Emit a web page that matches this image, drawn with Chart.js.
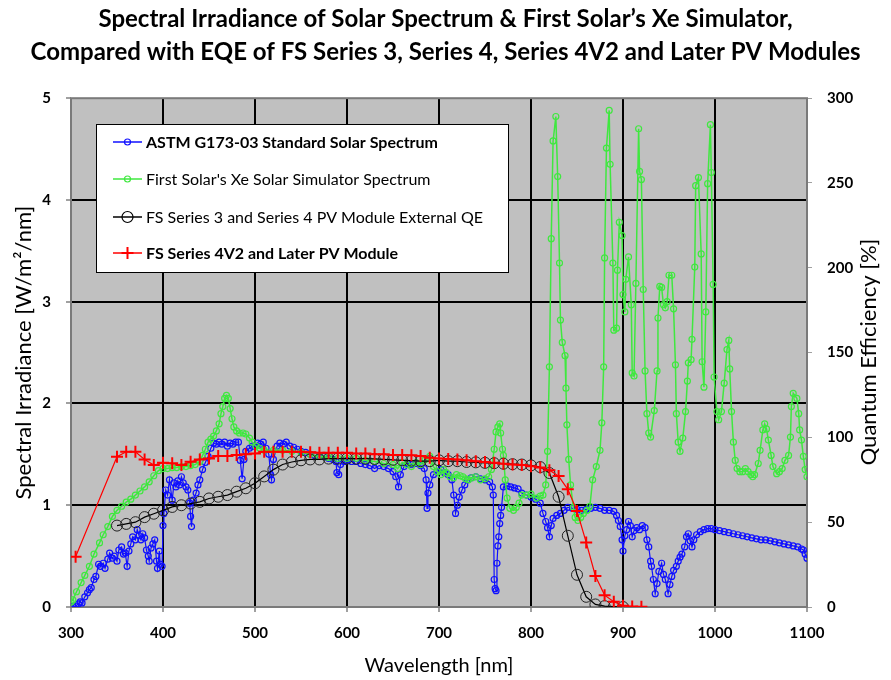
<!DOCTYPE html>
<html>
<head>
<meta charset="utf-8">
<script src="https://cdn.jsdelivr.net/npm/chart.js"></script>
<style>
  body { margin: 0; background: #ffffff; }
  #wrap { width: 891px; height: 680px; }
</style>
</head>
<body>
<div id="wrap"><canvas id="chart" width="891" height="680"></canvas></div>
<script>
//ASTM G173-03 reference spectrum (W/m2/nm)
const astmNm = [300,302,305,308,310,312,315,318,320,322,325,327,330,332,335,337,340,342,345,347,350,352,355,357,359,361,363,365,367,370,372,374,376,378,380,382,384,385,387,389,391,393,394,396,397,399,400,401,403,405,407,410,412,414,416,418,420,422,425,427,429,430,431,433,436,438,440,443,446,449,452,455,458,461,464,467,470,473,476,479,482,484,486,488,490,494,497,500,503,506,509,512,515,517,518,520,524,527,531,534,538,542,546,550,555,560,565,570,575,580,585,588,589,591,593,597,600,605,610,615,620,625,630,635,640,645,650,653,656,658,662,666,670,675,680,684,686,687,688,690,694,698,702,706,710,714,716,718,720,722,725,728,731,735,740,745,750,755,758,759,760,761,762,763,764,765,766,767,768,770,774,778,782,786,790,795,800,805,810,813,816,818,820,822,824,828,832,836,840,845,850,855,860,865,870,875,880,885,890,893,895,897,899,900,902,904,906,908,910,912,915,918,921,924,926,928,930,931,933,935,937,939,942,944,946,949,951,953,955,958,960,962,964,967,969,971,973,975,977,980,984,988,992,996,1000,1005,1010,1015,1020,1025,1030,1035,1040,1045,1050,1055,1060,1065,1070,1075,1080,1085,1090,1094,1096,1098,1100];
const astmIrr = [0.00,0.00,0.01,0.03,0.05,0.04,0.10,0.14,0.17,0.19,0.27,0.30,0.42,0.40,0.43,0.38,0.47,0.53,0.48,0.50,0.45,0.56,0.59,0.52,0.53,0.40,0.55,0.62,0.69,0.66,0.76,0.70,0.66,0.72,0.68,0.56,0.50,0.45,0.58,0.62,0.66,0.45,0.38,0.55,0.42,0.40,0.80,0.92,1.15,1.10,1.25,1.05,1.22,1.18,1.24,1.20,1.28,1.22,1.18,1.15,1.02,0.89,0.79,1.05,1.12,1.20,1.25,1.35,1.42,1.48,1.56,1.61,1.60,1.62,1.60,1.62,1.58,1.61,1.60,1.62,1.62,1.44,1.26,1.45,1.53,1.56,1.58,1.58,1.61,1.60,1.62,1.56,1.50,1.30,1.25,1.45,1.58,1.61,1.60,1.62,1.58,1.57,1.55,1.53,1.52,1.50,1.49,1.48,1.48,1.46,1.45,1.43,1.32,1.30,1.40,1.43,1.44,1.43,1.43,1.41,1.40,1.39,1.36,1.39,1.38,1.36,1.33,1.28,1.18,1.30,1.38,1.41,1.40,1.41,1.39,1.36,1.25,0.97,1.12,1.20,1.30,1.33,1.35,1.32,1.30,1.25,1.10,0.92,1.00,1.08,1.15,1.20,1.25,1.27,1.28,1.26,1.25,1.23,1.18,1.10,0.27,0.18,0.16,0.43,0.60,0.69,0.82,0.90,0.98,1.18,1.19,1.18,1.17,1.16,1.12,1.10,1.08,1.06,1.02,0.92,0.84,0.78,0.69,0.80,0.87,0.90,0.92,0.95,0.98,0.97,0.96,0.95,0.96,0.97,0.98,0.97,0.95,0.95,0.94,0.90,0.85,0.79,0.66,0.55,0.70,0.76,0.84,0.80,0.69,0.75,0.78,0.76,0.80,0.78,0.66,0.59,0.45,0.40,0.27,0.13,0.23,0.35,0.43,0.32,0.27,0.13,0.22,0.30,0.36,0.40,0.45,0.49,0.52,0.59,0.69,0.72,0.65,0.59,0.66,0.71,0.74,0.76,0.77,0.77,0.76,0.75,0.74,0.73,0.72,0.71,0.70,0.69,0.68,0.67,0.66,0.66,0.65,0.64,0.63,0.62,0.61,0.60,0.59,0.57,0.56,0.52,0.48];

//First Solar Xe simulator spectrum (W/m2/nm)
const xeNm = [300,302,306,311,315,320,325,331,335,340,345,350,355,360,365,370,375,380,385,390,395,400,405,410,415,420,425,430,435,440,443,446,449,452,455,458,461,463,465,467,469,471,473,475,477,480,483,487,490,494,497,501,505,510,520,530,540,550,560,570,580,590,600,610,620,630,640,650,655,660,665,670,675,680,685,690,694,698,702,705,708,712,716,719,723,726,729,732,736,740,745,750,754,757,760,762,764,766,767,769,770,772,774,777,781,784,787,790,795,800,806,810,813,816,818,820,822,824,827,829,831,832,834,837,838,839,841,843,846,848,851,854,857,861,864,867,871,875,877,879,880,882,885,886,889,890,893,894,896,899,900,902,903,906,909,910,912,914,917,918,920,922,924,926,928,930,934,937,938,940,942,944,946,948,950,953,955,957,958,960,962,965,968,970,971,974,975,978,979,982,985,986,988,990,992,995,996,998,999,1002,1004,1007,1010,1013,1015,1016,1018,1020,1022,1024,1027,1030,1033,1036,1039,1041,1043,1047,1049,1052,1054,1056,1058,1061,1063,1067,1070,1073,1076,1080,1082,1083,1085,1089,1091,1092,1094,1096,1098,1100];
const xeIrr = [0.05,0.07,0.15,0.24,0.31,0.40,0.52,0.63,0.71,0.79,0.89,0.95,0.99,1.03,1.06,1.10,1.14,1.18,1.23,1.29,1.34,1.36,1.36,1.37,1.37,1.38,1.38,1.39,1.40,1.43,1.49,1.55,1.62,1.65,1.68,1.73,1.80,1.90,1.97,2.05,2.08,2.05,1.95,1.85,1.77,1.73,1.71,1.71,1.70,1.66,1.62,1.58,1.56,1.54,1.54,1.54,1.53,1.52,1.50,1.48,1.47,1.46,1.46,1.46,1.44,1.43,1.41,1.40,1.36,1.42,1.40,1.38,1.42,1.40,1.45,1.48,1.38,1.33,1.30,1.35,1.32,1.28,1.27,1.30,1.29,1.28,1.26,1.25,1.27,1.28,1.25,1.26,1.28,1.35,1.55,1.72,1.77,1.80,1.71,1.55,1.49,1.25,1.07,0.97,0.95,0.98,1.02,1.10,1.10,1.11,1.07,1.09,1.10,1.20,1.53,2.36,3.62,4.58,4.82,4.23,3.38,2.82,2.60,2.47,2.15,1.79,1.45,1.20,0.98,0.88,0.85,0.88,0.92,0.95,0.99,1.25,1.38,1.54,1.81,2.36,3.43,4.51,4.88,4.35,3.38,2.72,2.74,3.31,3.78,3.65,3.07,2.90,3.22,3.44,2.97,2.30,2.27,3.18,4.70,4.28,4.20,3.12,2.32,1.90,1.71,1.67,1.93,2.32,2.84,3.15,3.14,2.97,2.94,3.00,3.26,3.26,2.93,2.38,1.90,1.62,1.53,1.66,1.92,2.22,2.40,2.43,2.63,3.34,4.14,4.22,3.47,2.41,2.16,2.90,4.16,4.74,4.27,3.17,2.26,1.92,1.84,1.92,2.20,2.53,2.62,2.34,1.92,1.62,1.44,1.36,1.33,1.33,1.36,1.33,1.30,1.28,1.30,1.41,1.54,1.74,1.80,1.75,1.64,1.49,1.38,1.31,1.33,1.36,1.44,1.49,1.67,1.97,2.10,2.05,1.90,1.74,1.64,1.48,1.35,1.28];

//FS Series 3 / Series 4 external QE (%)
const s34Nm = [350,360,370,380,390,400,410,420,430,440,450,460,470,480,490,500,510,520,530,540,550,560,570,580,590,600,610,620,630,640,650,660,670,680,690,700,710,720,730,740,750,760,770,780,790,800,810,820,830,840,850,860,870,880,890,900];
const s34Qe = [48,49,50,53,55,57,59,60,61,62,64,65,66,68,70,73,77,81,84,85.5,86.5,87,87,87.5,87.5,87.5,87.5,87.5,87.3,87,86.8,86.5,86.3,86,86,86.5,86,86,85.5,85.3,85,84.8,84.5,84.2,84,83.5,82.5,79,65,42,19,6,1.5,0.5,0.2,0];

//FS Series 4V2 and later QE (%)
const v2Nm = [305,350,360,370,380,390,400,410,420,430,440,450,460,470,480,490,500,510,520,530,540,550,560,570,580,590,600,610,620,630,640,650,660,670,680,690,700,710,720,730,740,750,760,770,780,790,800,810,820,830,840,850,860,870,880,890,900,910,920];
const v2Qe = [29.6,88.6,91.5,91.5,87,83.7,85,84.7,83.7,85.6,87,87.6,89,89,89.6,90,90.5,91.5,91.5,91.5,91.5,91.5,91.3,91,91,91,91,90.5,90.5,90,90,89.6,89.6,89.5,89,88,87.6,87.3,87,86.5,86,85.5,85,84.5,84,83.7,83,82.3,80.7,77.2,69.4,56.6,38.1,18.3,7,3.1,0.8,0.3,0.2];

const titleLines = [
  "Spectral Irradiance of Solar Spectrum & First Solar\u2019s Xe Simulator,",
  "Compared with EQE of FS Series 3, Series 4, Series 4V2 and Later PV Modules",
];

const toXY = (xs, ys) => xs.map((x, i) => ({ x: x, y: ys[i] }));
const FONT = "Lato, 'Open Sans', sans-serif";

//gray plot area, border, legend box and right axis title
const decor = {
  id: "decor",
  beforeDraw(chart) {
    const { ctx, chartArea: a } = chart;
    ctx.save();
    ctx.fillStyle = "#ffffff";
    ctx.fillRect(0, 0, chart.width, chart.height);
    ctx.fillStyle = "#c0c0c0";
    ctx.fillRect(a.left, a.top, a.right - a.left, a.bottom - a.top);
    ctx.restore();
  },
  beforeDatasetsDraw(chart) {
    const { ctx, chartArea: a } = chart;
    ctx.save();
    ctx.strokeStyle = "#7a7a7a";
    ctx.lineWidth = 2;
    ctx.strokeRect(a.left, a.top, a.right - a.left, a.bottom - a.top);
    ctx.restore();
  },
  afterDraw(chart) {
    const ctx = chart.ctx;
    ctx.save();
    //legend
    ctx.fillStyle = "#ffffff";
    ctx.fillRect(96, 124, 412, 148);
    ctx.strokeStyle = "#000000";
    ctx.lineWidth = 1;
    ctx.strokeRect(96.5, 124.5, 412, 148);
    const rowY = [142, 179, 217, 253];
    chart.data.datasets.forEach((ds, i) => {
      const y = rowY[i];
      ctx.strokeStyle = ds.borderColor;
      ctx.lineWidth = 1.5;
      ctx.beginPath();
      ctx.moveTo(113, y);
      ctx.lineTo(142, y);
      ctx.stroke();
      const r = ds.pointRadius;
      ctx.beginPath();
      if (ds.pointStyle === "cross") {
        ctx.lineWidth = 2;
        ctx.moveTo(127.5 - r, y);
        ctx.lineTo(127.5 + r, y);
        ctx.moveTo(127.5, y - r);
        ctx.lineTo(127.5, y + r);
      } else {
        ctx.lineWidth = 1.2;
        ctx.arc(127.5, y, r, 0, Math.PI * 2);
      }
      ctx.stroke();
      ctx.fillStyle = "#000000";
      ctx.font = (ds.legendBold ? "bold " : "") + "16px " + FONT;
      ctx.textBaseline = "middle";
      ctx.textAlign = "left";
      ctx.fillText(ds.label, 146, y + 1);
    });
    //right axis title, reads bottom to top
    ctx.translate(869, 352);
    ctx.rotate(-Math.PI / 2);
    ctx.font = "22px " + FONT;
    ctx.textAlign = "center";
    ctx.textBaseline = "middle";
    ctx.fillStyle = "#000000";
    ctx.fillText("Quantum Efficiency [%]", 0, 0);
    ctx.restore();
  },
};

const tickFont = { family: FONT, size: 15, weight: "bold" };

new Chart(document.getElementById("chart"), {
  type: "line",
  plugins: [decor],
  data: {
    datasets: [
      {
        label: "ASTM G173-03 Standard Solar Spectrum",
        data: toXY(astmNm, astmIrr),
        yAxisID: "y",
        borderColor: "#1010ff",
        borderWidth: 1.2,
        pointStyle: "circle",
        pointRadius: 3,
        pointBorderWidth: 1.2,
        pointBackgroundColor: "rgba(0,0,0,0)",
        pointBorderColor: "#1010ff",
        legendBold: true,
        order: 4,
      },
      {
        label: "First Solar's Xe Solar Simulator Spectrum",
        data: toXY(xeNm, xeIrr),
        yAxisID: "y",
        borderColor: "#3fe83f",
        borderWidth: 1.5,
        pointStyle: "circle",
        pointRadius: 3,
        pointBorderWidth: 1.2,
        pointBackgroundColor: "rgba(0,0,0,0)",
        pointBorderColor: "#3fe83f",
        legendBold: false,
        order: 3,
      },
      {
        label: "FS Series 3 and Series 4 PV Module External QE",
        data: toXY(s34Nm, s34Qe),
        yAxisID: "y2",
        borderColor: "#000000",
        borderWidth: 1.2,
        pointStyle: "circle",
        pointRadius: 5.5,
        pointBorderWidth: 1,
        pointBackgroundColor: "rgba(0,0,0,0)",
        pointBorderColor: "#222222",
        legendBold: false,
        order: 2,
      },
      {
        label: "FS Series 4V2 and Later PV Module",
        data: toXY(v2Nm, v2Qe),
        yAxisID: "y2",
        borderColor: "#ff0000",
        borderWidth: 1.2,
        pointStyle: "cross",
        pointRadius: 6,
        pointBorderWidth: 2,
        pointBorderColor: "#ff0000",
        legendBold: true,
        order: 1,
      },
    ],
  },
  options: {
    responsive: false,
    animation: false,
    devicePixelRatio: 1,
    layout: { padding: 0 },
    plugins: {
      legend: { display: false },
      tooltip: { enabled: false },
      title: {
        display: true,
        text: titleLines,
        color: "#000000",
        font: { family: FONT, size: 24, weight: "bold", lineHeight: 1.4 },
        padding: { top: 2, bottom: 29 },
      },
    },
    scales: {
      x: {
        type: "linear",
        min: 300,
        max: 1100,
        ticks: {
          stepSize: 100,
          color: "#000000",
          font: tickFont,
          padding: 12,
          maxRotation: 0,
          callback: (v) => String(v),
        },
        grid: {
          color: (c) => (c.tick && (c.tick.value === 300 || c.tick.value === 1100) ? "rgba(0,0,0,0)" : "#000000"),
          lineWidth: 2,
          tickLength: 5,
          tickColor: "#a0a0a0",
        },
        border: { display: false },
        title: {
          display: true,
          text: "Wavelength [nm]",
          color: "#000000",
          font: { family: FONT, size: 20 },
          padding: { top: 0, bottom: 2 },
        },
        afterFit: (s) => { s.height = 73; },
      },
      y: {
        position: "left",
        min: 0,
        max: 5,
        ticks: { stepSize: 1, color: "#000000", font: tickFont, padding: 15 },
        grid: {
          color: (c) => (c.tick && (c.tick.value === 0 || c.tick.value === 5) ? "rgba(0,0,0,0)" : "#000000"),
          lineWidth: 2,
          tickLength: 5,
          tickColor: "#a0a0a0",
        },
        border: { display: false },
        title: {
          display: true,
          text: "Spectral Irradiance [W/m\u00b2/nm]",
          color: "#000000",
          font: { family: FONT, size: 22 },
          padding: { top: 11, bottom: 0 },
        },
        afterFit: (s) => { s.width = 71; },
      },
      y2: {
        position: "right",
        min: 0,
        max: 300,
        ticks: { stepSize: 50, color: "#000000", font: tickFont, padding: 15 },
        grid: { drawOnChartArea: false, tickLength: 5, tickColor: "#a0a0a0" },
        border: { display: false },
        afterFit: (s) => { s.width = 84; },
      },
    },
  },
});
</script>
</body>
</html>
